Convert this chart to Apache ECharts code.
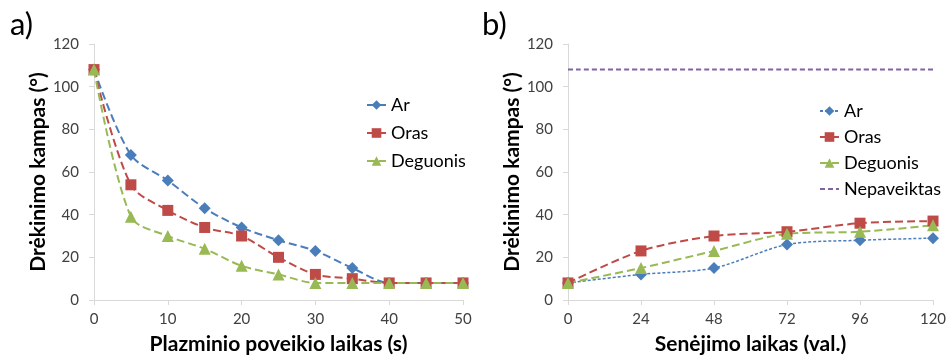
<!DOCTYPE html>
<html lang="lt">
<head>
    <meta charset="UTF-8">
    <title>Drėkinimo kampas</title>
    <script src="https://cdn.jsdelivr.net/npm/echarts@6/dist/echarts.min.js"></script>
    <style>
        html, body { margin: 0; padding: 0; background: #fff; }
        #main { width: 948px; height: 357px; }
    </style>
</head>
<body>
    <div id="main"></div>
    <script>
        // a) plazminio poveikio laikas (s)
        var timeA = [0, 5, 10, 15, 20, 25, 30, 35, 40, 45, 50];
        var arA = [108, 68, 56, 43, 34, 28, 23, 15, 8, 8, 8];
        var orasA = [108, 54, 42, 34, 30, 20, 12, 10, 8, 8, 8];
        var deguonisA = [108, 39, 30, 24, 16, 12, 8, 8, 8, 8, 8];

        // b) senėjimo laikas (val.)
        var timeB = [0, 24, 48, 72, 96, 120];
        var arB = [8, 12, 15, 26, 28, 29];
        var orasB = [8, 23, 30, 32, 36, 37];
        var deguonisB = [8, 15, 23, 31, 32, 35];
        var nepaveiktasB = [108, 108, 108, 108, 108, 108];

        var blue = '#4a7ebb', red = '#be4b48', green = '#98b954', purple = '#8064a2';
        var font = 'Lato, "Liberation Sans", sans-serif';

        function pairs(xs, ys) {
            return xs.map(function (x, i) { return [x, ys[i]]; });
        }

        function yAxis(idx) {
            return {
                type: 'value', gridIndex: idx, min: 0, max: 120, interval: 20,
                name: 'Drėkinimo kampas (°)', nameLocation: 'middle', nameGap: 45,
                nameTextStyle: { fontFamily: font, fontSize: 21, fontWeight: 'bold', color: '#000' },
                axisLine: { show: true, lineStyle: { color: '#d9d9d9' } },
                axisTick: { show: true, length: 5, lineStyle: { color: '#d9d9d9' } },
                axisLabel: { fontFamily: font, fontSize: 15, color: '#404040', margin: 15 },
                splitLine: { show: false }
            };
        }

        function xAxis(idx, max, step, title) {
            return {
                type: 'value', gridIndex: idx, min: 0, max: max, interval: step,
                name: title, nameLocation: 'middle', nameGap: 34,
                nameTextStyle: { fontFamily: font, fontSize: 21, fontWeight: 'bold', color: '#000' },
                axisLine: { show: true, lineStyle: { color: '#d9d9d9' } },
                axisTick: { show: true, length: 5, lineStyle: { color: '#d9d9d9' } },
                axisLabel: { fontFamily: font, fontSize: 15, color: '#404040', margin: 12 },
                splitLine: { show: false }
            };
        }

        function line(name, idx, xs, ys, color, symbol, size, width, dash) {
            return {
                name: name, type: 'line', xAxisIndex: idx, yAxisIndex: idx,
                data: pairs(xs, ys), smooth: 0.3,
                symbol: symbol, symbolSize: size,
                itemStyle: { color: color },
                lineStyle: { color: color, width: width, type: dash },
                emphasis: { disabled: true }
            };
        }

        var myChart = echarts.init(document.getElementById('main'));
        myChart.setOption({
            animation: false,
            textStyle: { fontFamily: font },
            title: [
                { text: 'a)', left: 5, top: 4, textStyle: { fontFamily: font, fontSize: 31, fontWeight: 'normal', color: '#000' } },
                { text: 'b)', left: 477, top: 4, textStyle: { fontFamily: font, fontSize: 31, fontWeight: 'normal', color: '#000' } }
            ],
            grid: [
                { left: 94, right: 485, top: 44, bottom: 57, outerBoundsMode: 'none' },
                { left: 568, right: 15, top: 44, bottom: 57, outerBoundsMode: 'none' }
            ],
            xAxis: [
                xAxis(0, 50, 10, 'Plazminio poveikio laikas (s)'),
                xAxis(1, 120, 24, 'Senėjimo laikas (val.)')
            ],
            yAxis: [yAxis(0), yAxis(1)],
            legend: [
                {
                    orient: 'vertical', left: 361, top: 91, itemGap: 10,
                    itemWidth: 19, itemHeight: 12,
                    textStyle: { fontFamily: font, fontSize: 18, color: '#000' },
                    data: [
                        { name: 'Ar' }, { name: 'Oras' }, { name: 'Deguonis' }
                    ],
                    selectedMode: false
                },
                {
                    orient: 'vertical', left: 814, top: 97, itemGap: 8,
                    itemWidth: 19, itemHeight: 12,
                    textStyle: { fontFamily: font, fontSize: 18, color: '#000' },
                    data: [
                        { name: 'Ar ' }, { name: 'Oras ' }, { name: 'Deguonis ' },
                        { name: 'Nepaveiktas', itemStyle: { opacity: 0 } }
                    ],
                    selectedMode: false
                }
            ],
            series: [
                line('Ar', 0, timeA, arA, blue, 'diamond', 12, 2, 'dashed'),
                line('Oras', 0, timeA, orasA, red, 'rect', 11, 2, 'dashed'),
                line('Deguonis', 0, timeA, deguonisA, green, 'triangle', 12, 2, 'dashed'),
                line('Ar ', 1, timeB, arB, blue, 'diamond', 12, 1.5, [3, 2]),
                line('Oras ', 1, timeB, orasB, red, 'rect', 11, 2, 'dashed'),
                line('Deguonis ', 1, timeB, deguonisB, green, 'triangle', 12, 2, 'dashed'),
                line('Nepaveiktas', 1, timeB, nepaveiktasB, purple, 'none', 0, 2, [5, 3])
            ]
        });
    </script>
</body>
</html>
